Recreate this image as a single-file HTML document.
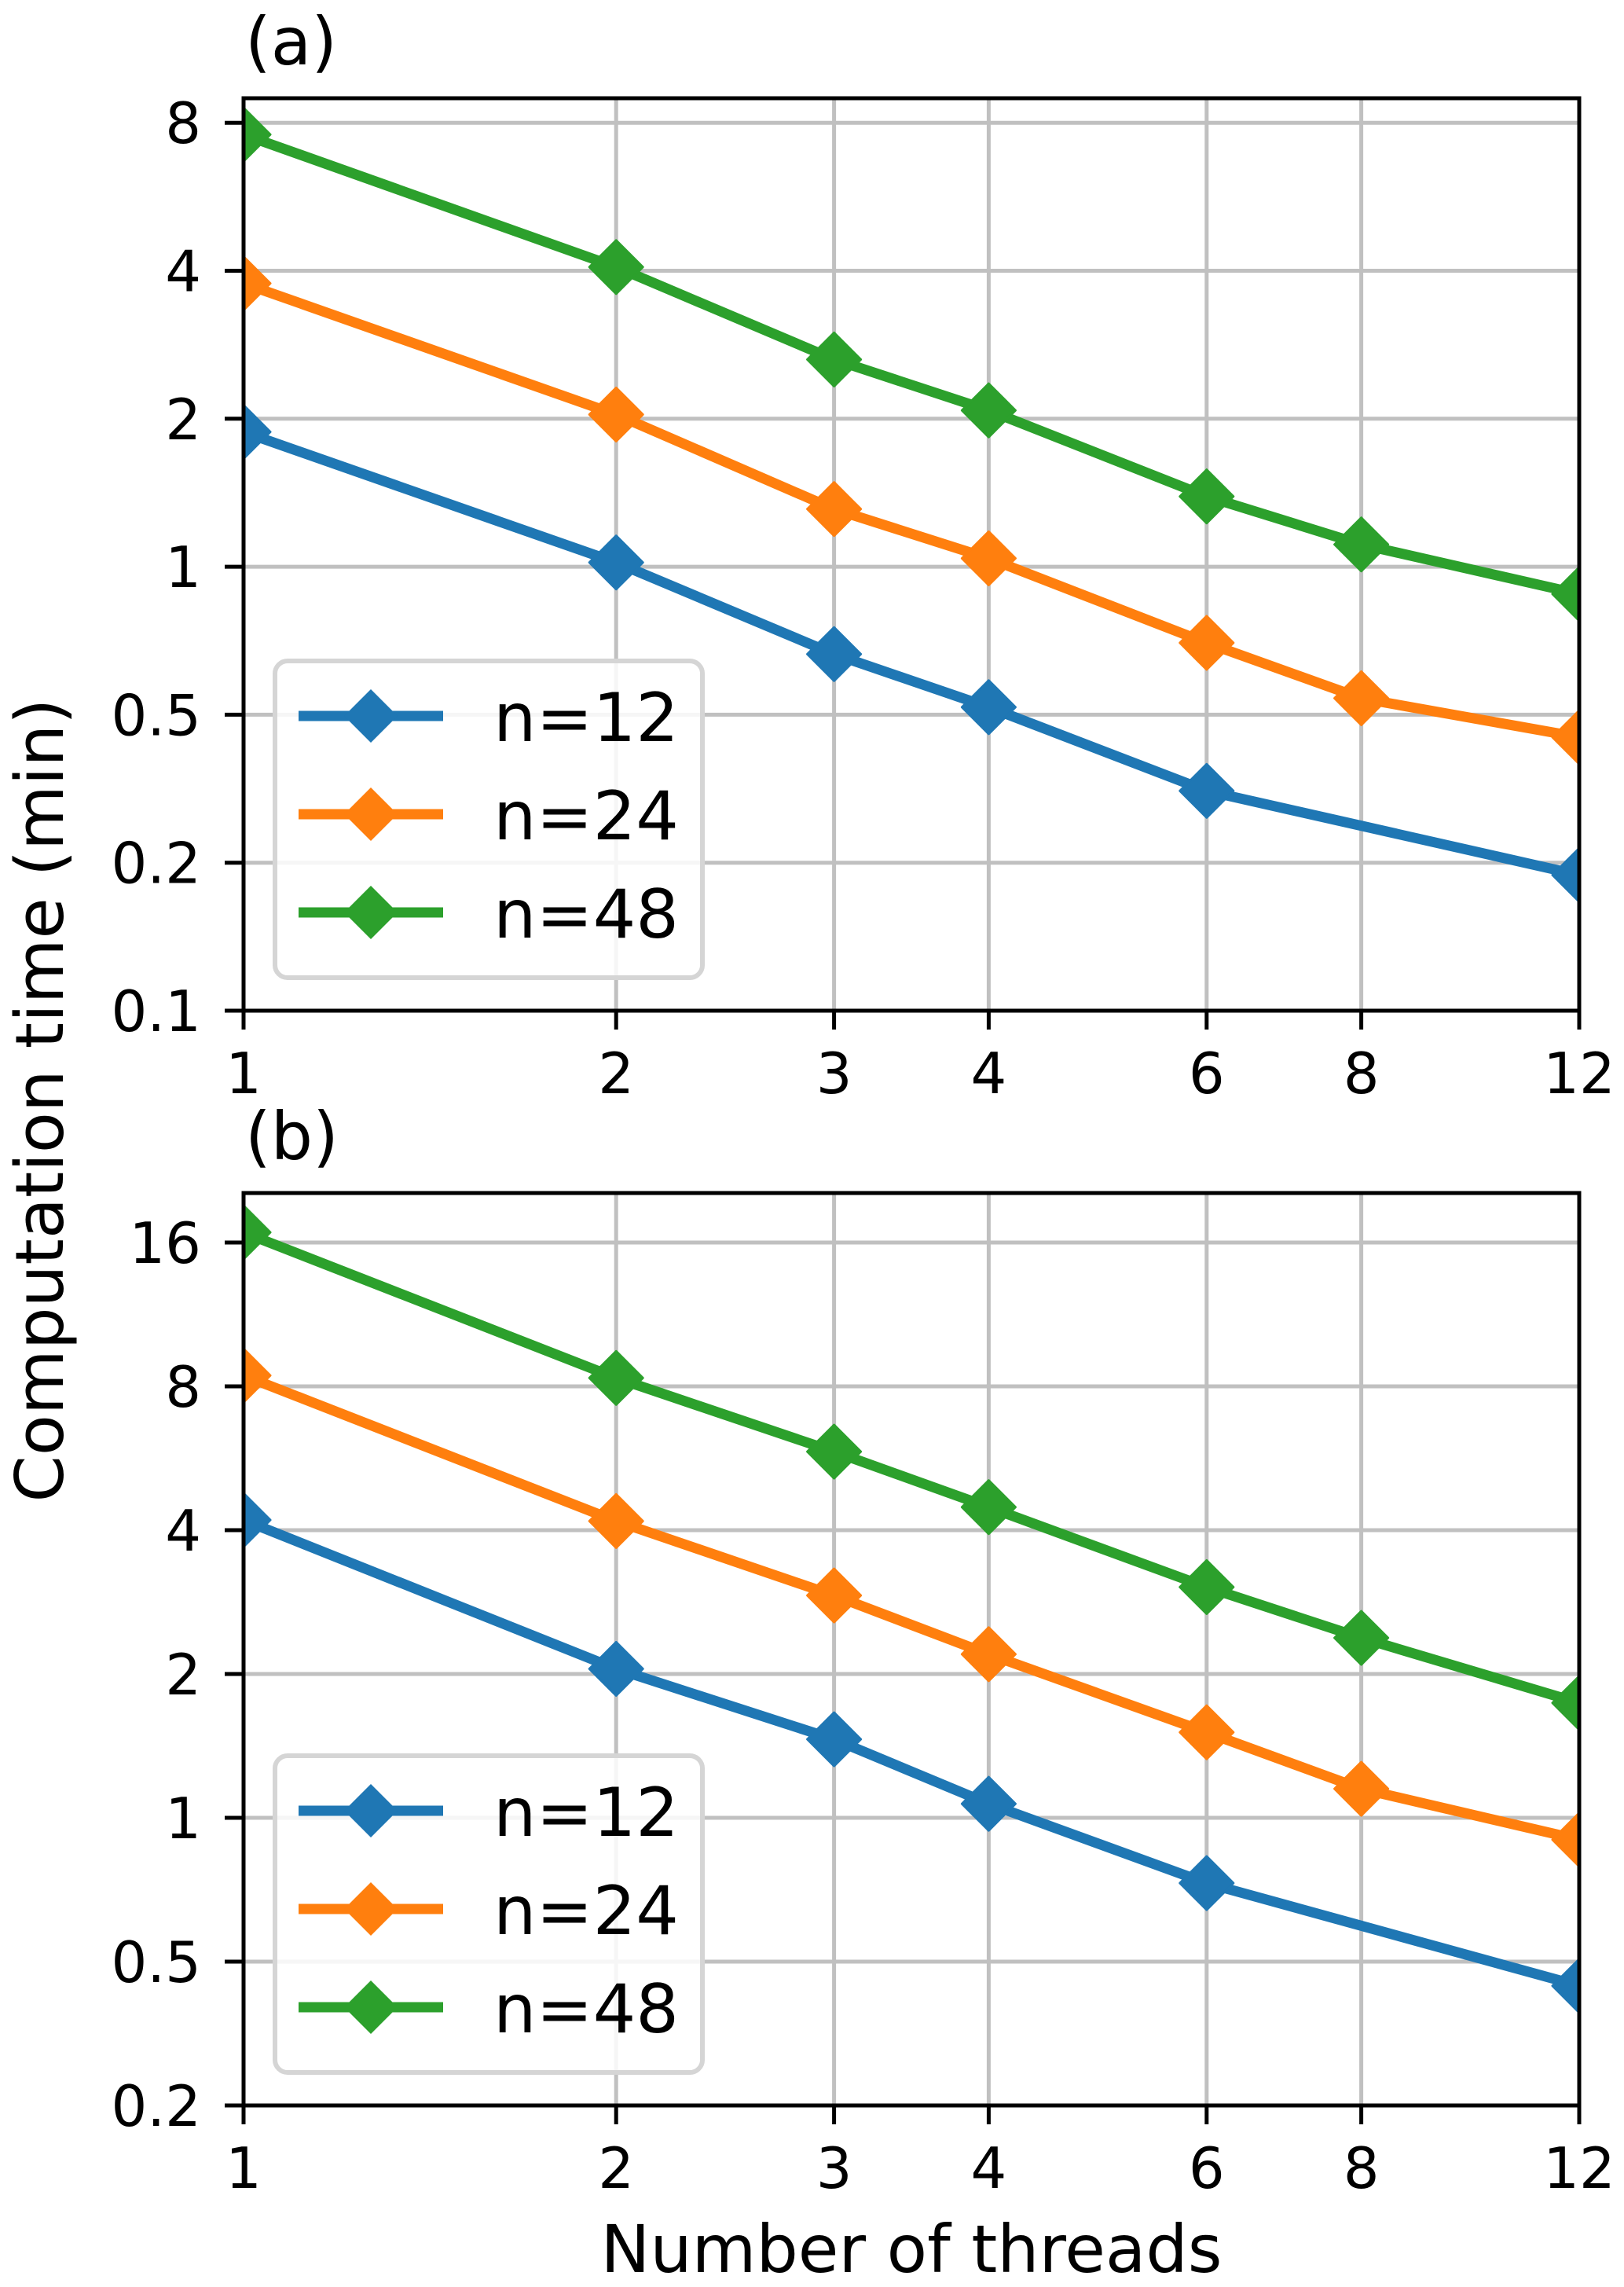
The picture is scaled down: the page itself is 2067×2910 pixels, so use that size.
<!DOCTYPE html>
<html><head><meta charset="utf-8"><style>
html,body{margin:0;padding:0;background:#fff;}
svg{display:block;}
text{font-family:"DejaVu Sans","Liberation Sans",sans-serif;fill:#000;}
</style></head><body>
<svg id="chart" width="2067" height="2910" viewBox="0 0 2067 2910" xmlns="http://www.w3.org/2000/svg">
<defs>
<clipPath id="clipA"><rect x="310" y="125" width="1700" height="1161"/></clipPath>
<clipPath id="clipB"><rect x="310" y="1518" width="1700" height="1161"/></clipPath>
</defs>
<text x="0" y="0" font-size="85" text-anchor="middle" transform="translate(80,1400) rotate(-90)">Computation time (min)</text>
<text x="1160" y="2891" font-size="84" text-anchor="middle">Number of threads</text>
</svg>
<script>
const xTicks = [1, 2, 3, 4, 6, 8, 12];
const xTickLabels = ["1", "2", "3", "4", "6", "8", "12"];
const seriesNames = ["n=12", "n=24", "n=48"];
const seriesColors = ["#1f77b4", "#ff7f0e", "#2ca02c"];
const threadsA12 = [1, 2, 3, 4, 6, 12];
const threadsAll = [1, 2, 3, 4, 6, 8, 12];
const panelA_n12 = [1.88, 1.02, 0.664, 0.518, 0.35, 0.236];
const panelA_n24 = [3.77, 2.04, 1.31, 1.04, 0.70, 0.54, 0.45];
const panelA_n48 = [7.57, 4.07, 2.64, 2.08, 1.39, 1.11, 0.88];
const panelB_n12 = [4.2, 2.05, 1.46, 1.07, 0.73, 0.445];
const panelB_n24 = [8.43, 4.18, 2.92, 2.2, 1.51, 1.15, 0.9];
const panelB_n48 = [16.8, 8.33, 5.84, 4.47, 3.04, 2.38, 1.74];
const yTicksA = [8, 4, 2, 1, 0.5, 0.25, 0.125];
const yTickLabelsA = ["8", "4", "2", "1", "0.5", "0.2", "0.1"];
const yTicksB = [16, 8, 4, 2, 1, 0.5, 0.25];
const yTickLabelsB = ["16", "8", "4", "2", "1", "0.5", "0.2"];

const NS = "http://www.w3.org/2000/svg";
const svg = document.getElementById("chart");
function mk(tag, attrs, parent) {
  const e = document.createElementNS(NS, tag);
  for (const k in attrs) e.setAttribute(k, attrs[k]);
  (parent || svg).appendChild(e);
  return e;
}
const X0 = 310, X1 = 2010;
function xScale(v) { return X0 + Math.log(v) / Math.log(12) * (X1 - X0); }

function drawPanel(p) {
  const g = mk("g", {});
  
  
  const yScale = v => p.bottom - Math.log2(v / p.yMin) * p.oct;
  xTicks.forEach((t) => {
    const l = mk("line", {x1: xScale(t), x2: xScale(t), y1: p.top, y2: p.bottom, stroke: "#c0c0c0", "stroke-width": 5}, g);
    
    
  });
  p.yTicks.forEach((t) => {
    const l = mk("line", {x1: X0, x2: X1, y1: yScale(t), y2: yScale(t), stroke: "#c0c0c0", "stroke-width": 5}, g);
    
    
  });
  const sg = mk("g", {"clip-path": "url(#" + p.clip + ")"}, g);
  p.series.forEach((s, i) => {
    const pts = s.vals.map((v, j) => [xScale(s.xs[j]), yScale(v)]);
    const pl = mk("polyline", {points: pts.map(q => q.join(",")).join(" "), fill: "none", stroke: seriesColors[i], "stroke-width": 13, "stroke-linejoin": "round"}, sg);
    
    
    pts.forEach(q => {
      const d = 34;
      const m = mk("polygon", {points: `${q[0]},${q[1]-d} ${q[0]+d},${q[1]} ${q[0]},${q[1]+d} ${q[0]-d},${q[1]}`, fill: seriesColors[i], stroke: seriesColors[i], "stroke-width": 3, "stroke-linejoin": "round"}, sg);
      
      
    });
  });
  const fr = mk("rect", {x: X0, y: p.top, width: X1 - X0, height: p.bottom - p.top, fill: "none", stroke: "#000", "stroke-width": 5}, g);
  
  
  xTicks.forEach((t, i) => {
    mk("line", {x1: xScale(t), x2: xScale(t), y1: p.bottom, y2: p.bottom + 24, stroke: "#000", "stroke-width": 5}, g);
    const tx = mk("text", {x: xScale(t), y: p.bottom + 105, "font-size": 72, "text-anchor": "middle"}, g);
    tx.textContent = xTickLabels[i];
    
    
  });
  p.yTicks.forEach((t, i) => {
    mk("line", {x1: X0 - 24, x2: X0, y1: yScale(t), y2: yScale(t), stroke: "#000", "stroke-width": 5}, g);
    const tx = mk("text", {x: 256, y: yScale(t) + 26, "font-size": 72, "text-anchor": "end"}, g);
    tx.textContent = p.yLabels[i];
    
    
  });
  const pt = mk("text", {x: 312, y: p.top - 43, "font-size": 84}, g);
  pt.textContent = p.label;
  
  
  const lb = p.bottom - 42, lt = lb - 403;
  const lg = mk("g", {}, g);
  
  
  mk("rect", {x: 350, y: lt, width: 544, height: 403, rx: 16, fill: "#fff", "fill-opacity": 0.85, stroke: "#d5d5d5", "stroke-width": 6}, lg);
  seriesNames.forEach((n, i) => {
    const cy = lt + 70 + i * 125;
    const e = mk("g", {}, lg);
    
    
    mk("line", {x1: 380, x2: 564, y1: cy, y2: cy, stroke: seriesColors[i], "stroke-width": 13}, e);
    const d = 34;
    mk("polygon", {points: `472,${cy-d} ${472+d},${cy} 472,${cy+d} ${472-d},${cy}`, fill: seriesColors[i]}, e);
    const t = mk("text", {x: 628, y: cy + 32, "font-size": 86}, e);
    t.textContent = n;
  });
}

drawPanel({name: "panel-a", label: "(a)", top: 125, bottom: 1286, oct: 188.3, yMin: 0.125, clip: "clipA",
  yTicks: yTicksA, yLabels: yTickLabelsA,
  series: [{xs: threadsA12, vals: panelA_n12}, {xs: threadsAll, vals: panelA_n24}, {xs: threadsAll, vals: panelA_n48}]});
drawPanel({name: "panel-b", label: "(b)", top: 1518, bottom: 2679, oct: 183, yMin: 0.25, clip: "clipB",
  yTicks: yTicksB, yLabels: yTickLabelsB,
  series: [{xs: threadsA12, vals: panelB_n12}, {xs: threadsAll, vals: panelB_n24}, {xs: threadsAll, vals: panelB_n48}]});
</script>
</body></html>
